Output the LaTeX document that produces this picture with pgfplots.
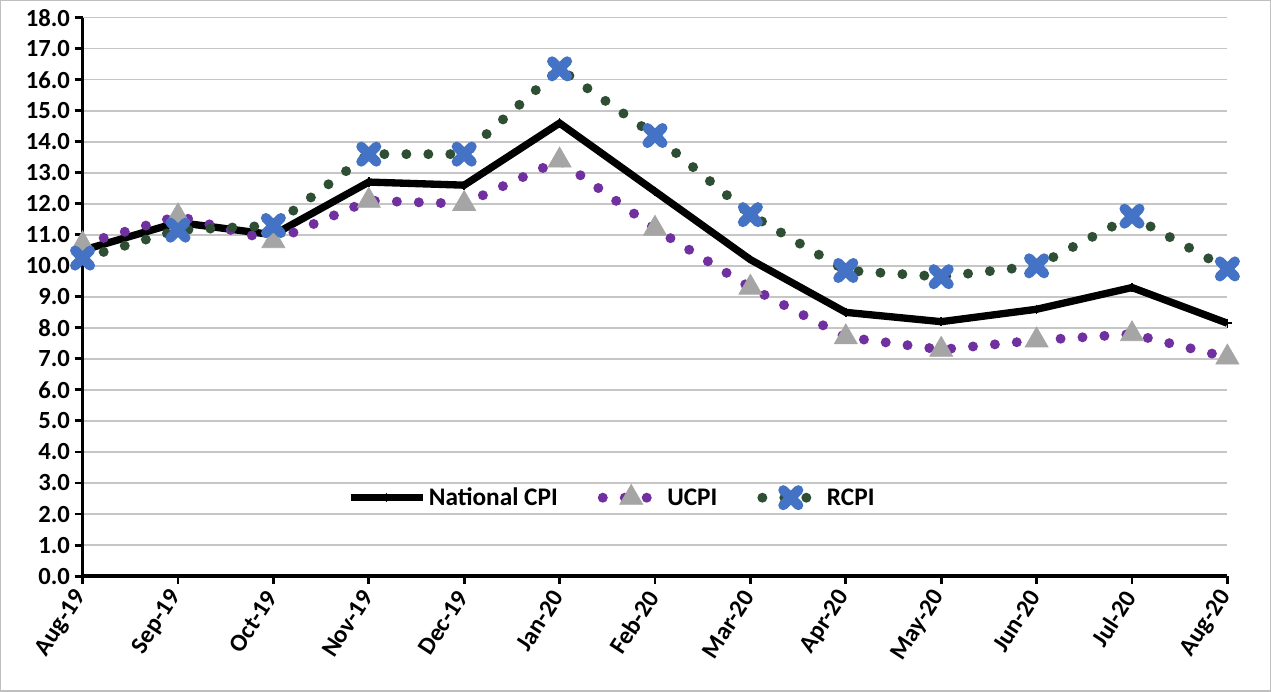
\documentclass[border=0pt]{standalone}
\usepackage{fontspec}
\setmainfont{Carlito}
\usepackage{pgfplots}
\pgfplotsset{compat=1.18}
\definecolor{rblue}{HTML}{4472C4}
\definecolor{rgreen}{HTML}{2F4F35}
\definecolor{upurple}{HTML}{7030A0}
\definecolor{ugray}{HTML}{A5A5A5}
\begin{document}
\begin{tikzpicture}
\begin{axis}[
  at={(0,0)}, anchor=south west,
  width=859.5pt, height=419.25pt, scale only axis,
  xmin=0, xmax=12, ymin=0, ymax=18,
  xtick={0,...,12},
  xticklabels={Aug-19,Sep-19,Oct-19,Nov-19,Dec-19,Jan-20,Feb-20,Mar-20,Apr-20,May-20,Jun-20,Jul-20,Aug-20},
  ytick={0,1,...,18},
  yticklabel style={/pgf/number format/.cd, fixed, fixed zerofill, precision=1, assume math mode=true},
  ticklabel style={font=\bfseries\fontsize{18.5}{21}\selectfont},
  x tick label style={rotate=57, anchor=east, inner sep=2pt},
  xticklabel shift=5pt,
  axis x line*=bottom, axis y line*=left,
  axis line style={line width=2.6pt, -},
  tick style={line width=2.2pt, black},
  tick align=outside, major tick length=6pt,
  ymajorgrids, grid style={line width=1.2pt, gray!45},
  legend columns=3,
  legend style={at={(0.4625,0.141)}, anchor=center, draw=none, fill=none,
    font=\bfseries\fontsize{19}{22}\selectfont,
    /tikz/every even column/.append style={column sep=28pt}},
  legend cell align=left,
]
\addplot[black, line width=5.5pt, mark=+, mark size=3.5pt, mark options={line width=1.2pt},
  legend image code/.code={\draw[mark repeat=2,mark phase=2] plot coordinates {(0cm,0cm) (0.95cm,0cm) (1.9cm,0cm)};}]
  coordinates {(0,10.5) (1,11.4) (2,11.0) (3,12.7) (4,12.6) (5,14.6) (6,12.4) (7,10.2) (8,8.5) (9,8.2) (10,8.6) (11,9.3) (12,8.15)};
\addlegendentry{National CPI}
\addplot[upurple, line width=7.5pt, line cap=round, dash pattern=on 0pt off 16.5pt,
  mark=triangle*, mark size=10pt, mark options={solid, fill=ugray, draw=ugray, line width=0.5pt},
  legend image code/.code={\draw[mark repeat=2,mark phase=2] plot coordinates {(0cm,0cm) (0.75cm,0cm) (1.5cm,0cm)};}]
  coordinates {(0,10.7) (1,11.6) (2,10.8) (3,12.1) (4,12.0) (5,13.4) (6,11.2) (7,9.3) (8,7.7) (9,7.3) (10,7.6) (11,7.8) (12,7.05)};
\addlegendentry{UCPI}
\addplot[rgreen, line width=7.5pt, line cap=round, dash pattern=on 0pt off 16.5pt,
  mark=x, mark size=8pt, mark options={solid, draw=rblue, line width=7.5pt, line cap=round},
  legend image code/.code={\draw[mark repeat=2,mark phase=2] plot coordinates {(0cm,0cm) (0.75cm,0cm) (1.5cm,0cm)};}]
  coordinates {(0,10.25) (1,11.15) (2,11.3) (3,13.6) (4,13.6) (5,16.35) (6,14.2) (7,11.65) (8,9.85) (9,9.65) (10,10.0) (11,11.6) (12,9.9)};
\addlegendentry{RCPI}
\end{axis}
\pgfresetboundingbox
\path[use as bounding box, draw=gray!50, line width=1pt] (-61.5pt,-86.25pt) rectangle (891.75pt,432pt);
\end{tikzpicture}
\end{document}
